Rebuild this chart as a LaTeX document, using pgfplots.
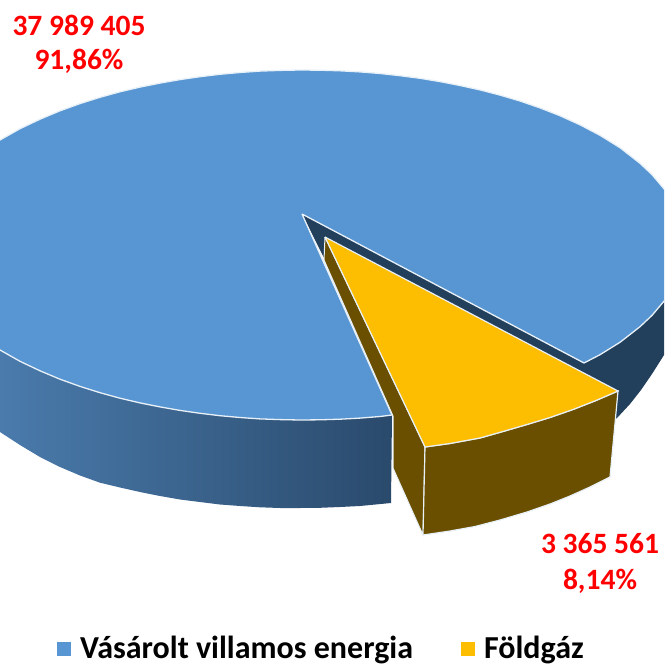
\documentclass[border=0pt]{standalone}
\usepackage{fontspec}
\setmainfont{Carlito}
\usepackage{pgfplots}
\pgfplotsset{compat=1.18}
\definecolor{topblue}{HTML}{5796D2}
\definecolor{sideL}{HTML}{4A7BAC}
\definecolor{sideR}{HTML}{2A4A6C}
\definecolor{darkblue}{HTML}{223F5B}
\definecolor{gold}{HTML}{FDBD00}
\definecolor{wall}{HTML}{6A4F00}
\definecolor{edge}{HTML}{E8F0F8}
\begin{document}
\begin{tikzpicture}
\path[use as bounding box] (0,0) rectangle (664pt,666pt);
\begin{axis}[
  at={(0,0)},anchor=south west,
  width=664pt,height=666pt,scale only axis,
  xmin=0,xmax=664,ymin=0,ymax=666,y dir=reverse,
  hide axis,clip=true,
  legend style={at={(axis cs:57,648.5)},anchor=west,draw=none,fill=none,
    font=\fontsize{32}{34}\selectfont\bfseries,legend columns=2,
    /tikz/every even column/.append style={column sep=46pt},
    /tikz/every odd column/.append style={column sep=0pt},inner sep=0pt},
  legend cell align=left,
]
\addlegendimage{only marks,mark=square*,mark size=6.5pt,color=topblue,mark options={draw=none}}
\addlegendentry{\hspace{8pt}Vásárolt villamos energia}
\addlegendimage{only marks,mark=square*,mark size=6.5pt,color=gold,mark options={draw=none}}
\addlegendentry{\hspace{8pt}Földgáz}
% blue front wall
\addplot[left color=sideL,right color=sideR,draw=none,forget plot] coordinates {
(0,350)(20,361.3)(40,370.8)(60,379.2)(80,386.4)(100,392.7)(120,398.2)(140,402.9)(160,406.9)(180,410.4)(200,413.3)(220,415.7)(240,417.5)(260,418.9)(280,419.6)(300,420)(320,419.8)(340,419.2)(360,418.1)(380,416.5)(392,415)
(391,503)(360,506)(340,507)(320,507.8)(300,508)(280,508)(260,507.3)(240,506)(220,504.5)(200,502)(180,499.5)(160,496)(140,492)(120,487.5)(100,482.7)(80,475.5)(60,467)(40,457)(20,445)(0,432)};
% blue right wall
\addplot[fill=darkblue,draw=none,forget plot] coordinates {
(584,362)(600,354.7)(620,342.3)(640,326.7)(652,315.4)(664,301.2)(674,285)(674,338)(664,355)(652,374)(641,390)(630,404)(617,418)(584,440)};
% inner notch wall
\addplot[fill=darkblue,draw=none,forget plot] coordinates {
(302,214)(584,362)(584,400)(330,270)};
% blue top
\addplot[fill=topblue,draw=edge,line width=1.3pt,forget plot] coordinates {
(302,214)(584,363)(600,354.7)(620,342.3)(640,326.7)(652,315.4)(664,301.2)(674,285)(680,245)(674,205)(664,188.8)(652,174.6)(640,163.3)(620,147.7)(600,135.3)(580,124.8)(560,115.7)(540,107.9)(520,101)(500,95.1)(480,89.9)(460,85.5)(440,81.6)(420,78.3)(400,75.7)(380,73.5)(360,71.9)(340,70.8)(320,70.2)(300,70)(280,70.4)(260,71.1)(240,72.5)(220,74.3)(200,76.7)(180,79.6)(160,83.1)(140,87.1)(120,91.8)(100,97.3)(80,103.6)(60,110.8)(40,119.2)(20,128.7)(0,140)(-10,146.5)(-20,245)(-10,343.5)(0,350)(20,361.3)(40,370.8)(60,379.2)(80,386.4)(100,392.7)(120,398.2)(140,402.9)(160,406.9)(180,410.4)(200,413.3)(220,415.7)(240,417.5)(260,418.9)(280,419.6)(300,420)(320,419.8)(340,419.2)(360,418.1)(380,416.5)(392,415)(302,214)};
% yellow inner wall
\addplot[fill=wall,draw=edge,line width=1pt,forget plot] coordinates {
(325,237)(425,447)(423,535)(393,468)(393,416)(324,260)(325,237)};
% yellow front wall
\addplot[fill=wall,draw=edge,line width=1.2pt,forget plot] coordinates {
(425,447)(450,443.5)(480,438)(503,431.5)(527,424.5)(550,417.5)(573,409.5)(596,400.5)(618,391)(610,477)(590,487)(570,496)(550,504)(527,512)(500,520)(475,526.5)(450,531)(423,535)(425,447)};
% yellow top
\addplot[fill=gold,draw=edge,line width=1.2pt,forget plot] coordinates {
(325,237)(618,391)(596,400.5)(573,409.5)(550,417.5)(527,424.5)(503,431.5)(480,438)(450,443.5)(425,447)(325,237)};
\node[text=red,font=\fontsize{29.5}{31}\selectfont\bfseries] at (axis cs:79,25) {37 989 405};
\node[text=red,font=\fontsize{29.5}{31}\selectfont\bfseries] at (axis cs:79,61) {91,86\%};
\node[text=red,font=\fontsize{29.5}{31}\selectfont\bfseries] at (axis cs:600,544) {3 365 561};
\node[text=red,font=\fontsize{29.5}{31}\selectfont\bfseries] at (axis cs:600,581.5) {8,14\%};
\end{axis}
\end{tikzpicture}
\end{document}
